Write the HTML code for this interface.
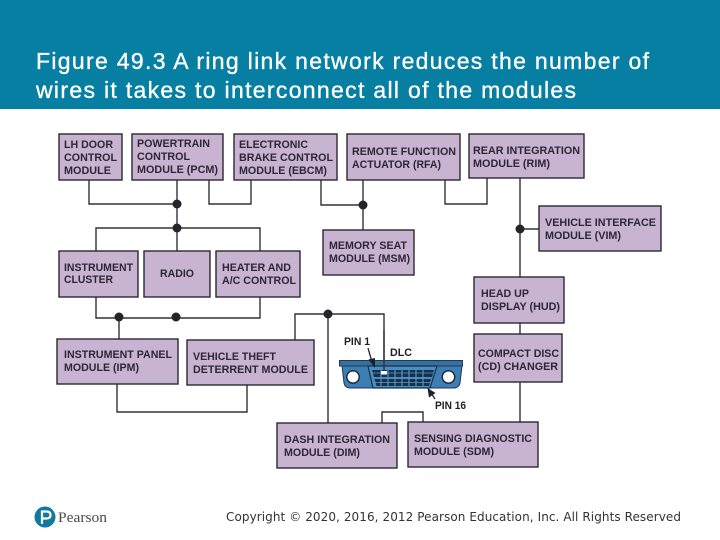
<!DOCTYPE html>
<html><head><meta charset="utf-8"><style>
html,body{margin:0;padding:0;background:#fff}
svg{display:block}
.b{fill:#c8b4d1;stroke:#2b2733;stroke-width:1.4}
.l{fill:none;stroke:#333038;stroke-width:1.4}
.t{font:bold 11px "Liberation Sans",sans-serif;fill:#2c2636}
.p{font:bold 11px "Liberation Sans",sans-serif;fill:#1e1e24}
.h{font:23px "Liberation Sans",sans-serif;fill:#fff;stroke:#fff;stroke-width:.35}
</style></head><body>
<svg width="720" height="540" viewBox="0 0 720 540" xmlns="http://www.w3.org/2000/svg">
<rect width="720" height="540" fill="#fff"/>
<rect width="720" height="109" fill="#067fa3"/>
<text class="h" x="36" y="69" textLength="613" lengthAdjust="spacing">Figure 49.3 A ring link network reduces the number of</text>
<text class="h" x="36" y="98" textLength="540" lengthAdjust="spacing">wires it takes to interconnect all of the modules</text>

<!-- connectors -->
<path class="l" d="M89 180V204H177M177 180V297M209 180V204H251V180M96 251V228H260V251"/>
<path class="l" d="M321 180V205H363M363 180V230M445 180V204H487V178"/>
<path class="l" d="M520 178V277M520 229H539M520 323V334M520 382V422"/>
<path class="l" d="M96 297V318H260V297M119 318V339M117 384V412H247V385"/>
<path class="l" d="M295 340V314H384V372M328 314V423M382 423V412H423V422"/>
<g fill="#26242a">
<circle cx="177" cy="204" r="4.500"/><circle cx="177" cy="228" r="4.500"/>
<circle cx="363" cy="205" r="4.500"/><circle cx="520" cy="229" r="4.500"/>
<circle cx="119" cy="317" r="4.500"/><circle cx="176" cy="317" r="4.500"/>
<circle cx="328" cy="314" r="4.500"/>
</g>

<!-- boxes -->
<rect class="b" x="59" y="134" width="63" height="46"/>
<rect class="b" x="132" y="134" width="91" height="46"/>
<rect class="b" x="234" y="134" width="103" height="46"/>
<rect class="b" x="347" y="134" width="113" height="46"/>
<rect class="b" x="469" y="134" width="115" height="44"/>
<rect class="b" x="539" y="206" width="122" height="45"/>
<rect class="b" x="323" y="230" width="91" height="45"/>
<rect class="b" x="59" y="251" width="79" height="46"/>
<rect class="b" x="144" y="251" width="66" height="46"/>
<rect class="b" x="216" y="251" width="84" height="46"/>
<rect class="b" x="474" y="277" width="90" height="46"/>
<rect class="b" x="474" y="334" width="88" height="48"/>
<rect class="b" x="57" y="339" width="121" height="45"/>
<rect class="b" x="187" y="340" width="127" height="45"/>
<rect class="b" x="277" y="423" width="120" height="45"/>
<rect class="b" x="408" y="422" width="130" height="45"/>

<!-- box labels -->
<g>
<text class="t" x="64" y="148" textLength="49" lengthAdjust="spacingAndGlyphs">LH DOOR</text>
<text class="t" x="64" y="161" textLength="53" lengthAdjust="spacingAndGlyphs">CONTROL</text>
<text class="t" x="64" y="174" textLength="47" lengthAdjust="spacingAndGlyphs">MODULE</text>
<text class="t" x="137" y="147" textLength="73" lengthAdjust="spacingAndGlyphs">POWERTRAIN</text>
<text class="t" x="137" y="160" textLength="53" lengthAdjust="spacingAndGlyphs">CONTROL</text>
<text class="t" x="137" y="173" textLength="81" lengthAdjust="spacingAndGlyphs">MODULE (PCM)</text>
<text class="t" x="239" y="148" textLength="69" lengthAdjust="spacingAndGlyphs">ELECTRONIC</text>
<text class="t" x="239" y="161" textLength="94" lengthAdjust="spacingAndGlyphs">BRAKE CONTROL</text>
<text class="t" x="239" y="174" textLength="88" lengthAdjust="spacingAndGlyphs">MODULE (EBCM)</text>
<text class="t" x="352" y="155" textLength="104" lengthAdjust="spacingAndGlyphs">REMOTE FUNCTION</text>
<text class="t" x="352" y="168" textLength="89" lengthAdjust="spacingAndGlyphs">ACTUATOR (RFA)</text>
<text class="t" x="473" y="154" textLength="107" lengthAdjust="spacingAndGlyphs">REAR INTEGRATION</text>
<text class="t" x="473" y="167" textLength="77" lengthAdjust="spacingAndGlyphs">MODULE (RIM)</text>
<text class="t" x="545" y="226" textLength="111" lengthAdjust="spacingAndGlyphs">VEHICLE INTERFACE</text>
<text class="t" x="545" y="239" textLength="76" lengthAdjust="spacingAndGlyphs">MODULE (VIM)</text>
<text class="t" x="329" y="249" textLength="78" lengthAdjust="spacingAndGlyphs">MEMORY SEAT</text>
<text class="t" x="329" y="262" textLength="81" lengthAdjust="spacingAndGlyphs">MODULE (MSM)</text>
<text class="t" x="64" y="271" textLength="69" lengthAdjust="spacingAndGlyphs">INSTRUMENT</text>
<text class="t" x="64" y="283" textLength="49" lengthAdjust="spacingAndGlyphs">CLUSTER</text>
<text class="t" x="160" y="277" textLength="34" lengthAdjust="spacingAndGlyphs">RADIO</text>
<text class="t" x="222" y="271" textLength="69" lengthAdjust="spacingAndGlyphs">HEATER AND</text>
<text class="t" x="222" y="284" textLength="74" lengthAdjust="spacingAndGlyphs">A/C CONTROL</text>
<text class="t" x="481" y="297" textLength="48" lengthAdjust="spacingAndGlyphs">HEAD UP</text>
<text class="t" x="481" y="310" textLength="79" lengthAdjust="spacingAndGlyphs">DISPLAY (HUD)</text>
<text class="t" x="478" y="357" textLength="81" lengthAdjust="spacingAndGlyphs">COMPACT DISC</text>
<text class="t" x="478" y="370" textLength="80" lengthAdjust="spacingAndGlyphs">(CD) CHANGER</text>
<text class="t" x="64" y="358" textLength="108" lengthAdjust="spacingAndGlyphs">INSTRUMENT PANEL</text>
<text class="t" x="64" y="371" textLength="75" lengthAdjust="spacingAndGlyphs">MODULE (IPM)</text>
<text class="t" x="193" y="360" textLength="83" lengthAdjust="spacingAndGlyphs">VEHICLE THEFT</text>
<text class="t" x="193" y="373" textLength="115" lengthAdjust="spacingAndGlyphs">DETERRENT MODULE</text>
<text class="t" x="284" y="443" textLength="106" lengthAdjust="spacingAndGlyphs">DASH INTEGRATION</text>
<text class="t" x="284" y="456" textLength="76" lengthAdjust="spacingAndGlyphs">MODULE (DIM)</text>
<text class="t" x="414" y="442" textLength="118" lengthAdjust="spacingAndGlyphs">SENSING DIAGNOSTIC</text>
<text class="t" x="414" y="455" textLength="80" lengthAdjust="spacingAndGlyphs">MODULE (SDM)</text>
</g>

<!-- DLC connector -->
<path d="M342 366H462L460 383Q459 388 453 388H350Q345 388 344 383Z" fill="#3d7fb3" stroke="#1b3a58" stroke-width="1"/>
<rect x="339.500" y="360.500" width="123" height="5.500" fill="#34719f" stroke="#1b3a58" stroke-width="1"/>
<circle cx="353" cy="377" r="6.200" fill="#fff" stroke="#15263a" stroke-width="1.400"/>
<circle cx="448.500" cy="377" r="6.200" fill="#fff" stroke="#15263a" stroke-width="1.400"/>
<path d="M368 366H437L430 388H373Z" fill="#4b8dc1" stroke="#14304c" stroke-width="1.200"/>
<g fill="#17304c">
<path d="M372 370H434L432 377H374Z"/>
<path d="M374.500 379H431L429 386H376.500Z"/>
</g>
<g stroke="#5c9ccd" stroke-width="1.100">
<path d="M381 370V386M388 370V386M395 370V386M402 370V386M409 370V386M416 370V386M423 370V386"/>
<path d="M372 373H434" stroke-width=".7"/>
<path d="M375 382.500H431" stroke-width=".7"/>
</g>
<rect x="381" y="371" width="6" height="3.500" fill="#fff"/>
<path class="l" d="M384 330V371"/>

<!-- DLC labels and arrows -->
<text class="p" x="344" y="345" textLength="26" lengthAdjust="spacingAndGlyphs">PIN 1</text>
<text class="p" x="390" y="356" textLength="22" lengthAdjust="spacingAndGlyphs">DLC</text>
<text class="p" x="435" y="409" textLength="31" lengthAdjust="spacingAndGlyphs">PIN 16</text>
<path d="M368 348L372 362" stroke="#1e1e24" stroke-width="1.300" fill="none"/>
<path d="M375 368L368.500 359.500L375 358Z" fill="#1e1e24"/>
<path d="M435 399L431 393" stroke="#1e1e24" stroke-width="1.300" fill="none"/>
<path d="M427.500 388L435.500 393L429 397.500Z" fill="#1e1e24"/>

<!-- footer -->
<circle cx="45" cy="517" r="10.500" fill="#0f7a9e"/>
<path d="M42 524V511.500H46.500Q50.500 511.500 50.500 515T46.500 518.500H42" fill="none" stroke="#fff" stroke-width="2.200"/>
<text x="58" y="522" font-family="Liberation Serif,serif" font-size="14.500" fill="#4a4a4a" textLength="49" lengthAdjust="spacingAndGlyphs">Pearson</text>
<text x="226" y="521" font-family="DejaVu Sans,sans-serif" font-size="12" fill="#333" textLength="455" lengthAdjust="spacing">Copyright © 2020, 2016, 2012 Pearson Education, Inc. All Rights Reserved</text>
</svg>
</body></html>
